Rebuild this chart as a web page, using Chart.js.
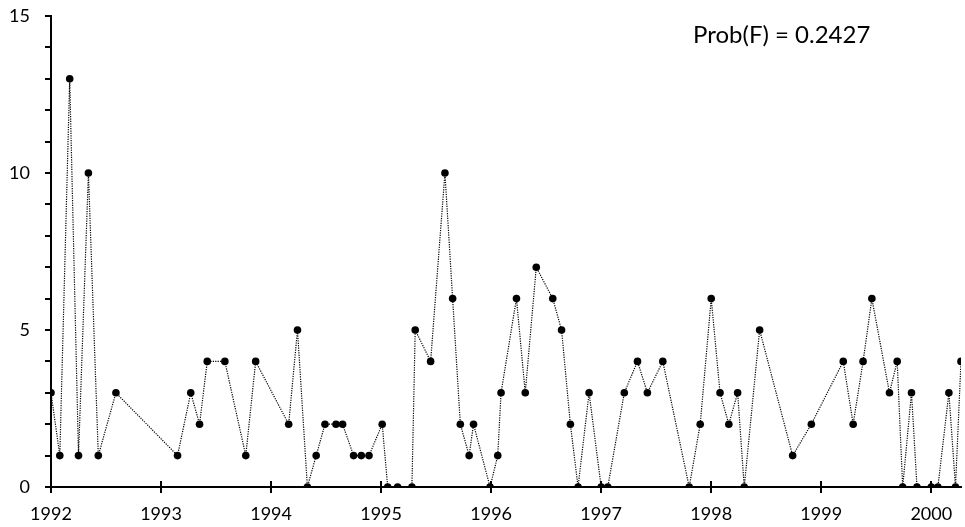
<!DOCTYPE html>
<html><head><meta charset="utf-8">
<script src="https://cdn.jsdelivr.net/npm/chart.js@4/dist/chart.umd.min.js"></script>
<style>html,body{margin:0;padding:0;background:#fff}#wrap{width:965px;height:527px;position:relative}</style>
</head><body><div id="wrap"><canvas id="c" width="965" height="527"></canvas></div>
<script>
const dates = [
 1992.00,1992.08,1992.17,1992.25,1992.34,1992.43,1992.59,
 1993.15,1993.27,1993.35,1993.42,1993.58,1993.77,1993.86,
 1994.16,1994.24,1994.33,1994.41,1994.49,1994.59,1994.65,1994.75,1994.82,1994.89,
 1995.01,1995.06,1995.15,1995.28,1995.31,1995.45,1995.58,1995.65,1995.72,1995.80,1995.84,1995.99,
 1996.06,1996.09,1996.23,1996.31,1996.41,1996.56,1996.64,1996.72,1996.79,1996.89,
 1997.00,1997.06,1997.21,1997.33,1997.42,1997.56,1997.80,1997.90,
 1998.00,1998.08,1998.16,1998.24,1998.30,1998.44,1998.74,1998.91,
 1999.20,1999.29,1999.38,1999.46,1999.62,1999.69,1999.74,1999.82,1999.87,
 2000.00,2000.06,2000.16,2000.22,2000.27
];
const counts = [
 3,1,13,1,10,1,3,
 1,3,2,4,4,1,4,
 2,5,0,1,2,2,2,1,1,1,
 2,0,0,0,5,4,10,6,2,1,2,0,
 1,3,6,3,7,6,5,2,0,3,
 0,0,3,4,3,4,0,2,
 6,3,2,3,0,5,1,2,
 4,2,4,6,3,4,0,3,0,
 0,0,3,0,4
];
const yearTicks = [1992,1993,1994,1995,1996,1997,1998,1999,2000];
const yLabelEvery = 5;
const annotation = 'Prob(F) = 0.2427';

const FONT = 'Lato, "Open Sans", sans-serif';

const innerTicks = {
  id:'innerTicks',
  afterDraw(chart){
    const ctx = chart.ctx, xs = chart.scales.x, b = chart.chartArea.bottom;
    ctx.save();
    ctx.strokeStyle = '#000'; ctx.lineWidth = 2;
    yearTicks.forEach(v=>{
      const px = Math.round(xs.getPixelForValue(v));
      ctx.beginPath(); ctx.moveTo(px, b-6); ctx.lineTo(px, b); ctx.stroke();
    });
    ctx.fillStyle = '#000';
    ctx.font = '24px ' + FONT;
    ctx.textBaseline = 'alphabetic';
    ctx.textAlign = 'left';
    ctx.fillText(annotation, 693, 43);
    ctx.restore();
  }
};

new Chart(document.getElementById('c'), {
  type:'line',
  data:{ datasets:[{
    data: dates.map((d,i)=>({x:d, y:counts[i]})),
    borderColor:'#000', borderWidth:1.2, borderDash:[1.2,1.2],
    pointRadius:3.8, pointBackgroundColor:'#000', pointBorderColor:'#000', pointBorderWidth:0,
    tension:0, fill:false
  }]},
  options:{
    responsive:false, animation:false, devicePixelRatio:1,
    layout:{padding:{top:16,right:0,left:0,bottom:0}},
    plugins:{legend:{display:false}, tooltip:{enabled:false}},
    scales:{
      x:{
        type:'linear', min:1992, max:2000.27,
        afterBuildTicks: s=>{ s.ticks = yearTicks.map(v=>({value:v})); },
        afterFit: s=>{ s.height = 40; s.paddingLeft = 0; s.paddingRight = 0; },
        ticks:{ callback:v=>String(v), color:'#000', font:{family:FONT,size:18}, padding:10, maxRotation:0, autoSkip:false },
        grid:{ drawOnChartArea:false, tickLength:6, color:'#000', lineWidth:2 },
        border:{ color:'#000', width:2 }
      },
      y:{
        min:0, max:15,
        afterFit: s=>{ s.width = 51; s.paddingTop = 0; s.paddingBottom = 0; },
        ticks:{ stepSize:1, callback:v=> (v % yLabelEvery === 0 ? String(v) : ''), color:'#000', font:{family:FONT,size:18}, padding:15, autoSkip:false },
        grid:{ drawOnChartArea:false, tickLength:6, color:'#000', lineWidth:2 },
        border:{ color:'#000', width:2 }
      }
    }
  },
  plugins:[innerTicks]
});
</script>
</body></html>
